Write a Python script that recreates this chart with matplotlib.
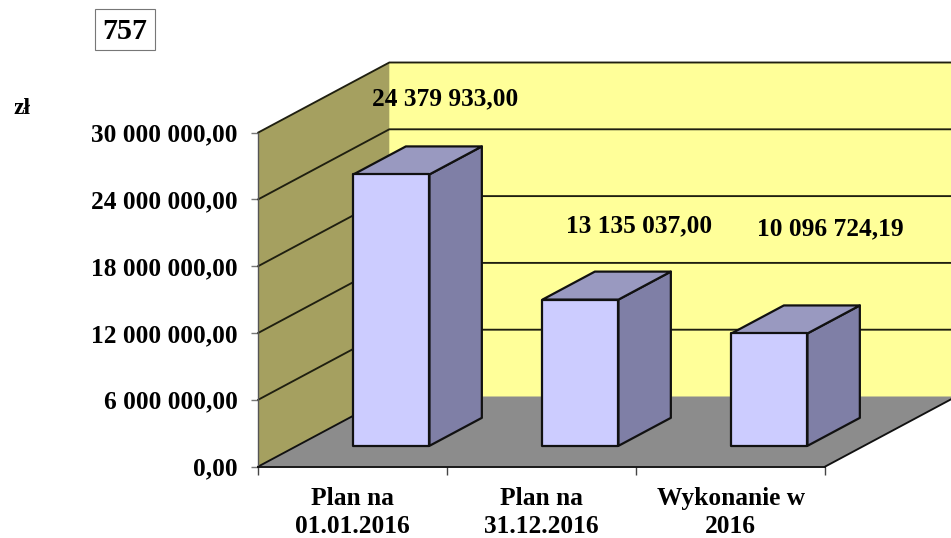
import matplotlib
matplotlib.use("Agg")
import matplotlib.pyplot as plt
from matplotlib.patches import Polygon, Rectangle

plt.rcParams['font.family'] = ['Liberation Serif', 'DejaVu Serif']
plt.rcParams['font.weight'] = 'bold'

categories = ["Plan na\n01.01.2016", "Plan na\n31.12.2016", "Wykonanie w\n2016"]
values = [24379933.00, 13135037.00, 10096724.19]
value_labels = ["24 379 933,00", "13 135 037,00", "10 096 724,19"]
y_ticks = [0, 6000000, 12000000, 18000000, 24000000, 30000000]
y_tick_labels = ["0,00", "6 000 000,00", "12 000 000,00", "18 000 000,00", "24 000 000,00", "30 000 000,00"]

W, H = 951, 538
fig = plt.figure(figsize=(W / 100, H / 100), dpi=100, facecolor='white')

# plot box (front plane), in pixels
L, R, T, B = 258.3, 825.3, 132.5, 466.5
ax = fig.add_axes([L / W, 1 - B / H, (R - L) / W, (B - T) / H])
ax.set_xlim(0, 3)
ax.set_ylim(0, 30000000)
ax.patch.set_visible(False)

# depth vector in data units
DX = 131.0 / ((R - L) / 3)
DY = 70.0 / (B - T) * 30000000


def P(x, v, d):
    return (x + d * DX, v + d * DY)


def poly(pts, color, z, edge='none', lw=0):
    ax.add_patch(Polygon(pts, closed=True, facecolor=color, edgecolor=edge, linewidth=lw,
                         zorder=z, clip_on=False, joinstyle='round'))


YELLOW, OLIVE, FLOOR = '#FFFF99', '#A5A060', '#8C8C8C'
FRONT, SIDE, TOP = '#CCCCFF', '#7F7FA6', '#9999C0'
LINE = '#111111'
top_v = 30000000

# back wall, side wall, floor
poly([P(0, 0, 1), P(3, 0, 1), P(3, top_v, 1), P(0, top_v, 1)], YELLOW, 1)
poly([P(0, 0, 0), P(0, 0, 1), P(0, top_v, 1), P(0, top_v, 0)], OLIVE, 1)
poly([P(0, 0, 0), P(3, 0, 0), P(3, 0, 1), P(0, 0, 1)], FLOOR, 2)

# gridlines across both walls
for v in y_ticks[1:]:
    a, b, c = P(0, v, 0), P(0, v, 1), P(3, v, 1)
    ax.plot([a[0], b[0], c[0]], [a[1], b[1], c[1]], color='#1f1f10', lw=1.35, zorder=3,
            clip_on=False, solid_joinstyle='miter')

# floor edges
for p, q in [(P(0, 0, 0), P(0, 0, 1)), (P(3, 0, 0), P(3, 0, 1))]:
    ax.plot([p[0], q[0]], [p[1], q[1]], color=LINE, lw=1.35, zorder=3, clip_on=False)

# 3D bars
BW = 76.0 / ((R - L) / 3)
D1, D2 = 0.295, 0.695
for i, v in enumerate(values):
    x0, x1 = i + 0.5 - BW / 2, i + 0.5 + BW / 2
    poly([P(x1, 0, D1), P(x1, 0, D2), P(x1, v, D2), P(x1, v, D1)], SIDE, 5, LINE, 1.6)
    poly([P(x0, v, D1), P(x1, v, D1), P(x1, v, D2), P(x0, v, D2)], TOP, 5, LINE, 1.6)
    poly([P(x0, 0, D1), P(x1, 0, D1), P(x1, v, D1), P(x0, v, D1)], FRONT, 6, LINE, 1.6)

# axes: spines and ticks
for s in ('top', 'right'):
    ax.spines[s].set_visible(False)
ax.spines['left'].set_color('#555555')
ax.spines['left'].set_linewidth(1.0)
ax.spines['bottom'].set_color(LINE)
ax.spines['bottom'].set_linewidth(1.35)
ax.spines['left'].set_zorder(7)
ax.spines['bottom'].set_zorder(7)

ax.set_yticks(y_ticks)
ax.set_yticklabels(y_tick_labels, fontsize=18.3, fontweight='bold', color='black')
ax.tick_params(axis='y', length=5, width=1.0, color='#777777', pad=10)
ax.set_xticks([0, 1, 2, 3])
ax.set_xticklabels([])
ax.tick_params(axis='x', which='major', length=5.5, width=1.0, color='#444444')
ax.set_xticks([0.5, 1.5, 2.5], minor=True)
ax.set_xticklabels(categories, minor=True, fontsize=18.3, fontweight='bold',
                   linespacing=1.27, color='black')
ax.tick_params(axis='x', which='minor', length=0, pad=15)

# value labels: offset in points from the front-top of each bar
offsets = [(38.5, 54.5), (42, 53), (43.5, 75.5)]
for i, (v, lab) in enumerate(zip(values, value_labels)):
    ax.annotate(lab, xy=P(i + 0.5, v, D1), xytext=offsets[i], textcoords='offset points',
                ha='center', va='center', fontsize=18.3, fontweight='bold', color='black',
                zorder=8, annotation_clip=False)

# title box and unit
fig.add_artist(Rectangle((95 / W, 1 - 50.5 / H), 60 / W, 41.5 / H, transform=fig.transFigure,
                         facecolor='white', edgecolor='#777777', linewidth=0.8))
fig.text(125 / W, 1 - 31.5 / H, "757", ha='center', va='center', fontsize=21.6,
         fontweight='bold', color='black')
fig.text(21.5 / W, 1 - 108.5 / H, "zł", ha='center', va='center', fontsize=17,
         fontweight='bold', color='black')

fig.savefig('out.png', dpi=100, facecolor='white')
